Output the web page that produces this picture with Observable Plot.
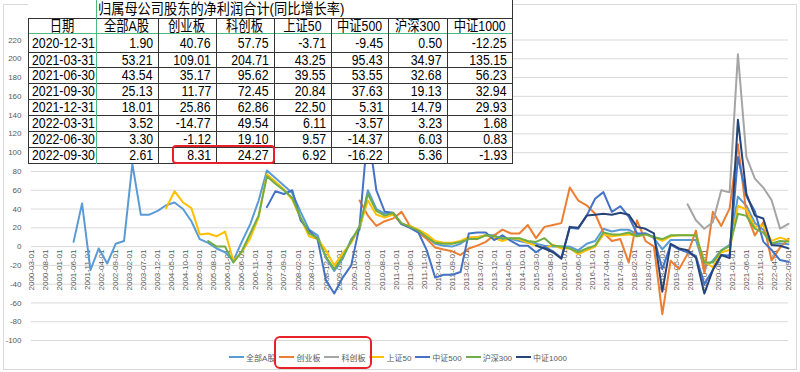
<!DOCTYPE html>
<html><head><meta charset="utf-8">
<script src="https://cdn.jsdelivr.net/npm/d3@7"></script>
<script src="https://cdn.jsdelivr.net/npm/@observablehq/plot@0.6"></script>
<style>
html,body{margin:0;padding:0;background:#fff;}
#wrap{position:relative;width:800px;height:372px;overflow:hidden;font-family:"Liberation Sans","Noto Sans CJK SC",sans-serif;}
#wrap svg{position:absolute;left:0;top:0;}
.abs{position:absolute;box-sizing:border-box;}
.cell{position:absolute;display:flex;align-items:center;white-space:nowrap;font-size:15px;line-height:16px;color:#000;}
.cell span{display:inline-block;flex-shrink:0;}
.legend{position:absolute;left:0;width:800px;top:351px;height:12px;display:flex;justify-content:center;align-items:center;font-size:8px;color:#595959;}
.legend .sw{display:inline-block;width:15px;height:2px;margin-right:2px;}
.legend .lb{margin-right:4px;}
</style></head><body><div id="wrap"></div>
<script>
// ---------- data ----------
const quarters = [
"2001-06","2001-09","2001-12",
"2002-03","2002-06","2002-09","2002-12","2003-03","2003-06","2003-09","2003-12",
"2004-03","2004-06","2004-09","2004-12","2005-03","2005-06","2005-09","2005-12",
"2006-03","2006-06","2006-09","2006-12","2007-03","2007-06","2007-09","2007-12",
"2008-03","2008-06","2008-09","2008-12","2009-03","2009-06","2009-09","2009-12",
"2010-03","2010-06","2010-09","2010-12","2011-03","2011-06","2011-09","2011-12",
"2012-03","2012-06","2012-09","2012-12","2013-03","2013-06","2013-09","2013-12",
"2014-03","2014-06","2014-09","2014-12","2015-03","2015-06","2015-09","2015-12",
"2016-03","2016-06","2016-09","2016-12","2017-03","2017-06","2017-09","2017-12",
"2018-03","2018-06","2018-09","2018-12","2019-03","2019-06","2019-09","2019-12",
"2020-03","2020-06","2020-09","2020-12","2021-03","2021-06","2021-09","2021-12",
"2022-03","2022-06","2022-09"];

const seriesNames = ["全部A股","创业板","科创板","上证50","中证500","沪深300","中证1000"];
const seriesColors = ["#5B9BD5","#ED7D31","#A5A5A5","#FFC000","#4472C4","#70AD47","#264478"];

const allA = [5,46,-25,
 -2,-18,3,6, 88,34,34,38, 44,47,40,27, 8,4,-2,-6, -15,5,24,49, 81,73,65,57,
 37,18,12,-12, -26,-13,8,18, 60,40,35,35, 24,22,17,10, 3,1,0,3, 9,10,12,12,
 8,8,6,4, 3,1,0,0, 0,-4,3,6, 19,16,18,18, 13,14,9,-3, 7,7,7,7,
 -22,-15,-4,1.90, 53.21,43.54,25.13,18.01, 3.52,3.30,2.61];
const allAStart = "2001-06";

const chinext = [49,
 33,22,27,30, 37,22,15,8, -1,-3,-5,-9, -2,1,5,12, 18,14,14,23, 9,21,23,25,
 63,49,44,35, 15,6,8,-17, 28,6,0,-72, -15,-24,-8,17, -28,37,22,40.76,
 109.01,35.17,11.77,25.86, -14.77,-1.12,8.31];
const chinextStart = "2009-12";

const star = [45,28, 19,26,60,57.75, 204.71,95.62,72.45,62.86, 49.54,19.10,24.27];
const starStart = "2019-09";

const sse50 = [41,59,47,41, 13,14,11,16, -15,-6,9,31, 77,69,61,50, 30,11,8,-4,
 -20,-7,4,20, 49,34,31,34, 24,22,18,13, 6,4,4,6, 10,10,12,9, 6,9,8,4,
 1,-2,2,-2, -2,-8,-4,0, 13,11,12,13, 11,13,10,6, 11,12,12,12,
 -16,-22,-6,-3.71, 43.25,39.55,20.84,22.50, 6.11,9.57,6.92];
const sse50Start = "2004-03";

const csi500 = [42,59,56,60, 28,17,8,-36, -50,-33,-20,22, 125,60,37,36, 24,20,15,-4,
 -33,-30,-30,-27, 14,15,15,7, 12,6,1,1, -6,0,-5,-12, 20,19,33,51, 58,37,43,32,
 14,14,10,-24, 2,-3,-6,-10, -40,-25,-9,-9.45, 95.43,53.55,37.63,5.31, -3.57,-14.37,-16.22];
const csi500Start = "2007-03";

const csi300 = [6,0,0, -17,-5,14,33, 75,67,60,52, 31,14,9,-11, -24,-11,6,22,
 56,38,33,36, 25,21,17,10, 4,3,3,5, 8,8,12,11, 9,9,9,6, 5,9,1,0, -2,-6,-2,1,
 15,13,13,15, 11,13,10,8, 12,12,12,12, -17,-17,-4,0.50,
 34.97,32.68,19.13,14.79, 3.23,6.03,5.36];
const csi300Start = "2005-06";

const csi1000 = [1,-2,-6,-13, 21,20,33,34, 35,34,36,34, 21,19,14,-48, 3,-2,-4,-12,
 -50,-25,-9,-12.25, 135.15,56.23,32.94,29.93, 1.68,0.83,-1.93];
const csi1000Start = "2015-03";

const yTicks = [-100,-80,-60,-40,-20,0,20,40,60,80,100,120,140,160,180,200,220];
const xTickLabels = ["2000-03-01","2000-08-01","2001-01-01","2001-06-01","2001-11-01","2002-04-01","2002-09-01",
"2003-02-01","2003-07-01","2003-12-01","2004-05-01","2004-10-01","2005-03-01","2005-08-01","2006-01-01",
"2006-06-01","2006-11-01","2007-04-01","2007-09-01","2008-02-01","2008-07-01","2008-12-01","2009-05-01",
"2009-10-01","2010-03-01","2010-08-01","2011-01-01","2011-06-01","2011-11-01","2012-04-01","2012-09-01",
"2013-02-01","2013-07-01","2013-12-01","2014-05-01","2014-10-01","2015-03-01","2015-08-01","2016-01-01",
"2016-06-01","2016-11-01","2017-04-01","2017-09-01","2018-02-01","2018-07-01","2018-12-01","2019-05-01",
"2019-10-01","2020-03-01","2020-08-01","2021-01-01","2021-06-01","2021-11-01","2022-04-01","2022-09-01"];

const tableTitle = "归属母公司股东的净利润合计(同比增长率)";
const tableHeadFirst = "日期";
const tableDates = ["2020-12-31","2021-03-31","2021-06-30","2021-09-30","2021-12-31","2022-03-31","2022-06-30","2022-09-30"];

// ---------- build tidy data ----------
const seriesData = [
  [seriesNames[0], allA, allAStart],
  [seriesNames[1], chinext, chinextStart],
  [seriesNames[2], star, starStart],
  [seriesNames[3], sse50, sse50Start],
  [seriesNames[4], csi500, csi500Start],
  [seriesNames[5], csi300, csi300Start],
  [seriesNames[6], csi1000, csi1000Start]
];
const rows = [];
for (const [name, vals, start] of seriesData) {
  const s0 = quarters.indexOf(start);
  vals.forEach((v, i) => rows.push({series: name, date: new Date(quarters[s0 + i] + "-01T00:00:00Z"), value: v}));
}

const wrap = document.getElementById("wrap");

// outer chart border
const border = document.createElement("div");
border.className = "abs";
border.style.cssText = "left:3px;top:4px;width:794px;height:366px;border:1px solid #d9d9d9;";
wrap.appendChild(border);

const chart = Plot.plot({
  width: 800, height: 372,
  marginLeft: 31, marginRight: 12, marginTop: 39.5, marginBottom: 32,
  style: {fontFamily: "'Liberation Sans','Noto Sans CJK SC',sans-serif", color: "#595959", background: "transparent", overflow: "visible"},
  x: {type: "utc", domain: [new Date("2000-03-01T00:00:00Z"), new Date("2022-09-01T00:00:00Z")], axis: null},
  y: {domain: [-100, 220], axis: null, label: null},
  color: {domain: seriesNames, range: seriesColors},
  marks: [
    Plot.ruleY(yTicks, {stroke: "#d9d9d9", strokeWidth: 1}),
    Plot.axisY({ticks: yTicks, tickSize: 0, tickPadding: 10, fontSize: 8, label: null, tickFormat: d => String(d)}),
    Plot.text(xTickLabels, {x: d => new Date(d + "T00:00:00Z"), y: 0, text: d => d, rotate: -90, textAnchor: "end", lineAnchor: "middle", dy: 3, fontSize: 8, fill: "#595959"}),
    Plot.line(rows, {x: "date", y: "value", z: "series", stroke: "series", strokeWidth: 2, curve: "linear"})
  ]
});
wrap.appendChild(chart);

// ---------- table overlay ----------
const colX = [28, 96, 158, 216, 274, 331, 388, 447, 512];
const rowLines = [52, 67, 83, 99, 115, 131, 147, 163];
const rowTops = [34, 52, 67, 83, 99, 115, 131, 147];
const SX = 0.82;

function box(css) { const d = document.createElement("div"); d.className = "abs"; d.style.cssText = css; wrap.appendChild(d); return d; }
function cell(text, left, width, top, height, align, scale, pad, size) {
  const d = document.createElement("div");
  d.className = "cell";
  const jc = align === "left" ? "flex-start" : align === "right" ? "flex-end" : "center";
  d.style.cssText = `left:${left}px;width:${width}px;top:${top}px;height:${height}px;justify-content:${jc};` +
    (align === "left" ? `padding-left:${pad}px;` : align === "right" ? `padding-right:${pad}px;` : "") + "box-sizing:border-box;" +
    (size ? `font-size:${size}px;` : "");
  const s = document.createElement("span");
  s.textContent = text;
  s.style.transform = `scaleX(${scale})`;
  s.style.transformOrigin = align === "left" ? "left center" : align === "right" ? "right center" : "center center";
  d.appendChild(s);
  wrap.appendChild(d);
}
// white background
box(`left:${colX[0]}px;top:0px;width:${colX[8]-colX[0]+1}px;height:164px;background:#fff;`);
// horizontal lines
box(`left:${colX[0]}px;top:18px;width:${colX[8]-colX[0]}px;height:1px;background:#333;`);
box(`left:${colX[0]}px;top:33px;width:${colX[8]-colX[0]}px;height:1px;background:#4dbb7f;`);
for (const y of rowLines) box(`left:${colX[0]}px;top:${y}px;width:${colX[8]-colX[0]}px;height:1px;background:#333;`);
// vertical lines
box(`left:${colX[0]}px;top:18px;width:1px;height:146px;background:#333;`);
box(`left:${colX[1]}px;top:0px;width:1px;height:164px;background:#4dbb7f;`);
for (let i = 2; i < 8; i++) box(`left:${colX[i]}px;top:18px;width:1px;height:146px;background:#333;`);
box(`left:${colX[8]}px;top:0px;width:1px;height:164px;background:#333;`);

// title
cell(tableTitle, colX[1] + 1, 300, 0, 18, "left", 0.88, 1);
// header
const header = [tableHeadFirst, ...seriesNames];
header.forEach((h, i) => cell(h, colX[i], colX[i+1] - colX[i], 18, 16, "center", SX, 0));
// data rows
const seriesVals = [allA, chinext, star, sse50, csi500, csi300, csi1000];
tableDates.forEach((dt, r) => {
  const top = rowTops[r], h = (rowLines[r]) - top;
  cell(dt, colX[0], colX[1] - colX[0], top, h, "left", SX, 4);
  seriesVals.forEach((vals, c) => {
    const v = vals[vals.length - 8 + r];
    cell(v.toFixed(2), colX[c+1], colX[c+2] - colX[c+1], top, h, "right", SX, 5);
  });
});

// red box in table
box("left:172px;top:145px;width:103px;height:19px;border:2px solid #e8202a;border-radius:4px;");

// ---------- legend ----------
const lg = document.createElement("div");
lg.className = "legend";
seriesNames.forEach((n, i) => {
  const sw = document.createElement("span"); sw.className = "sw"; sw.style.background = seriesColors[i];
  const lb = document.createElement("span"); lb.className = "lb"; lb.textContent = n;
  lg.appendChild(sw); lg.appendChild(lb);
});
wrap.appendChild(lg);
box("left:274px;top:336px;width:98px;height:33px;border:2px solid #e8202a;border-radius:6px;");
</script></body></html>
